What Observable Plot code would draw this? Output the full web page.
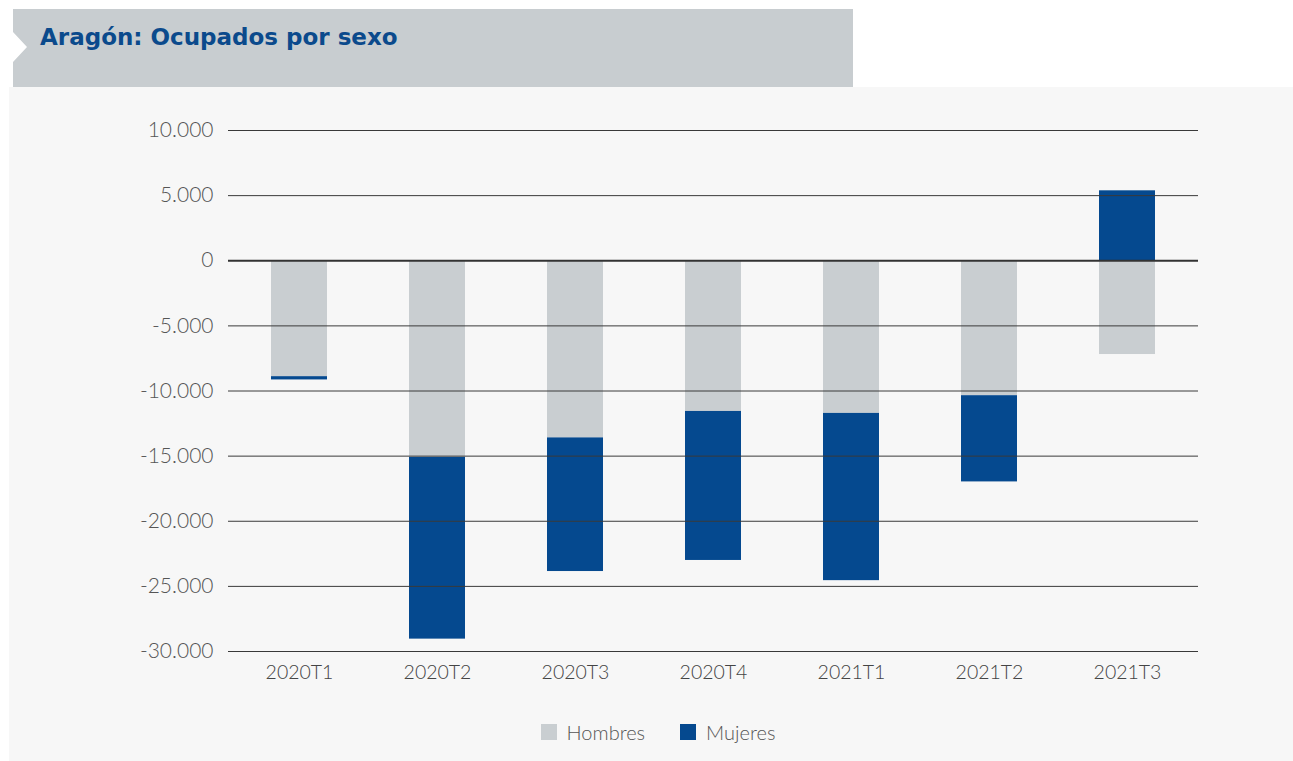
<!DOCTYPE html>
<html>
<head>
<meta charset="utf-8">
<script src="https://cdn.jsdelivr.net/npm/d3@7"></script>
<script src="https://cdn.jsdelivr.net/npm/@observablehq/plot@0.6"></script>
<style>
  html, body { margin: 0; padding: 0; background: #ffffff; }
  body { width: 1293px; height: 761px; position: relative; overflow: hidden; font-family: "Lato", "Open Sans", sans-serif; }
  #band { position: absolute; left: 13px; top: 9px; width: 840px; height: 78px; background: #c8cdd0;
          clip-path: polygon(0 0, 100% 0, 100% 100%, 0 100%, 0 53px, 14px 38px, 0 23px); }
  #title { position: absolute; left: 40px; top: 24px; font-family: "DejaVu Sans", sans-serif; font-weight: bold;
           font-size: 23px; color: #0b4a8c; letter-spacing: 0px; }
  #panel { position: absolute; left: 9px; top: 87px; width: 1284px; height: 674px; background: #f7f7f7; }
  #chart { position: absolute; left: 0; top: 0; }
  #legend { position: absolute; top: 633px; left: 0; width: 100%; display: flex; justify-content: center; gap: 35px;
            font-size: 20px; color: #555; font-weight: 300; padding-left: 14px; box-sizing: border-box; }
  .item { display: flex; align-items: center; gap: 10px; }
  .sw { width: 16px; height: 16px; display: inline-block; }
</style>
</head>
<body>
<div id="band"></div>
<div id="title">Aragón: Ocupados por sexo</div>
<div id="panel">
  <div id="chart"></div>
  <div id="legend"></div>
</div>
<script>
const periods = ["2020T1", "2020T2", "2020T3", "2020T4", "2021T1", "2021T2", "2021T3"];
const hombres = [-8900, -15100, -13600, -11570, -11720, -10360, -7200];
const mujeres = [-250, -13950, -10260, -11440, -12840, -6620, 5370];
const seriesNames = ["Hombres", "Mujeres"];
const seriesColors = ["#c9ced1", "#05498f"];
const yTicks = [10000, 5000, 0, -5000, -10000, -15000, -20000, -25000, -30000];

const rows = [];
periods.forEach((p, i) => rows.push({period: p, sexo: "Hombres", value: hombres[i]}));
periods.forEach((p, i) => rows.push({period: p, sexo: "Mujeres", value: mujeres[i]}));

const locale = d3.formatLocale({decimal: ",", thousands: ".", grouping: [3], currency: ["", "€"], minus: "-"});
const fmt = locale.format(",");

const chart = Plot.plot({
  width: 1284,
  height: 604,
  marginLeft: 219,
  marginRight: 95,
  marginTop: 43,
  marginBottom: 40,
  style: {background: "transparent", fontFamily: "Lato, 'Open Sans', sans-serif", fontWeight: 300},
  x: {domain: periods, paddingInner: 0.596, paddingOuter: 0.298, label: null, tickSize: 0},
  y: {domain: [-30000, 10000], ticks: yTicks, tickFormat: fmt, label: null, tickSize: 0},
  color: {domain: seriesNames, range: seriesColors},
  marks: [
    Plot.barY(rows, {x: "period", y: "value", fill: "sexo", order: seriesNames}),
    Plot.ruleY(yTicks.filter(d => d !== 0), {stroke: "#3a3a3a", strokeWidth: 1}),
    Plot.ruleY([0], {stroke: "#333", strokeWidth: 2}),
    Plot.axisY({ticks: yTicks, tickFormat: fmt, tickSize: 0, tickPadding: 15, fontSize: 21, fill: "#555", label: null}),
    Plot.axisX({tickSize: 0, tickPadding: 14, fontSize: 19.5, fill: "#444", label: null})
  ]
});
document.getElementById("chart").appendChild(chart);

const legend = document.getElementById("legend");
seriesNames.forEach((n, i) => {
  const it = document.createElement("div");
  it.className = "item";
  it.innerHTML = `<span class="sw" style="background:${seriesColors[i]}"></span><span>${n}</span>`;
  legend.appendChild(it);
});
</script>
</body>
</html>
